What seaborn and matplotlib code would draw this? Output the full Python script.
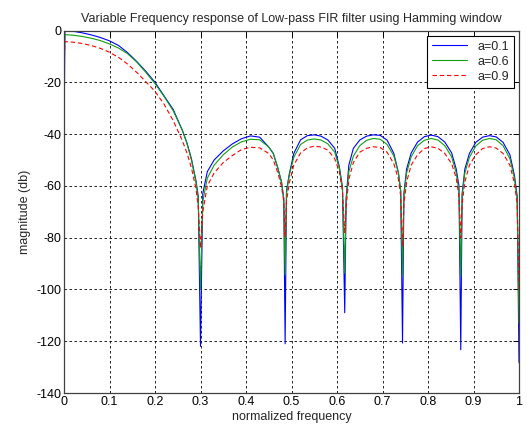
import numpy as np
import pandas as pd
import matplotlib
matplotlib.use("Agg")
import matplotlib.pyplot as plt
import seaborn as sns

# ---- data ----
freq = [0, 0.002, 0.02, 0.04, 0.06, 0.08, 0.10, 0.12, 0.14, 0.16, 0.18, 0.20, 0.22, 0.24, 0.26, 0.27, 0.28, 0.29, 0.295, 0.3,
        0.305, 0.315, 0.33, 0.35, 0.37, 0.39, 0.41, 0.43, 0.45, 0.46, 0.47, 0.478, 0.483, 0.486,
        0.489, 0.495, 0.505, 0.52, 0.535, 0.55, 0.565, 0.58, 0.595, 0.605, 0.612, 0.617,
        0.62, 0.626, 0.636, 0.65, 0.665, 0.68, 0.695, 0.71, 0.725, 0.735, 0.74, 0.744,
        0.747, 0.753, 0.763, 0.777, 0.792, 0.807, 0.822, 0.837, 0.852, 0.862, 0.868, 0.872,
        0.875, 0.881, 0.891, 0.905, 0.92, 0.935, 0.95, 0.965, 0.98, 0.99, 0.996, 1.0]

mag_a01 = [-45.5, 0, -0.3, -0.9, -1.7, -2.7, -4.0, -5.8, -8.6, -12.0, -15.8, -20.0, -25.3, -30.5, -38.5, -43.3, -49.5, -58, -64, -122,
           -63, -54.5, -50, -46.5, -43.8, -41.8, -40.7, -41.2, -45.0, -47.5, -53.2, -58.5, -65, -121,
           -62, -55.5, -47.5, -42.2, -40.6, -40.3, -40.8, -42.3, -45.5, -52.5, -60.5, -109,
           -65, -52, -45.5, -42.3, -40.8, -40.3, -40.5, -42.3, -47.5, -55, -62, -120.7,
           -63, -53.5, -47.3, -43.1, -41, -40.4, -41, -43.1, -47.3, -53.5, -60, -123.3,
           -63, -53.5, -47.5, -43.2, -41.2, -40.6, -41.1, -43.2, -48, -56, -64, -128.3]

mag_a06 = [-14, -1.6, -1.8, -2.3, -3.0, -3.9, -5.2, -6.8, -9.0, -12.2, -16.2, -20.5, -25.5, -31.0, -38.5, -43.5, -50, -58.5, -65, -100,
           -66, -57, -52, -48, -45, -43, -42, -42.2, -45, -47.5, -53, -58.5, -65, -94.4,
           -63, -56, -49, -44, -42.3, -41.9, -42.3, -43.8, -47, -53, -61, -93.7,
           -66, -54.5, -48.5, -44.5, -42.4, -41.7, -42, -44, -48.5, -55, -62, -95,
           -64, -55, -48.8, -44.5, -42.4, -41.7, -42.3, -44.5, -48.8, -55, -62, -95,
           -64, -55, -49, -44.6, -42.4, -41.7, -42.2, -44.5, -49.5, -57, -65, -113]

mag_a09 = [-16, -4.3, -4.5, -5.0, -5.8, -6.9, -8.4, -10.4, -13.0, -16.2, -19.8, -23.5, -28.5, -34.8, -42.5, -47.2, -53, -61, -68, -84,
           -70, -60, -55, -51, -48.3, -46, -45.1, -45.3, -47.5, -50, -55, -60.3, -66, -79.6,
           -66, -59, -52, -47.3, -45.3, -44.7, -45, -46.2, -49.5, -54.5, -62, -78,
           -68, -57.5, -51, -47, -45.5, -44.9, -45.2, -47, -51.5, -57.5, -64, -83.5,
           -67, -58.5, -52, -48, -45.6, -44.9, -45.5, -47.5, -51.5, -57, -64, -80,
           -67, -58.5, -52, -48, -45.6, -44.9, -45.4, -47.5, -52, -59, -67, -100]

series_names = ["a=0.1", "a=0.6", "a=0.9"]
x_ticks = [0, 0.1, 0.2, 0.3, 0.4, 0.5, 0.6, 0.7, 0.8, 0.9, 1]
x_tick_labels = ["0", "0.1", "0.2", "0.3", "0.4", "0.5", "0.6", "0.7", "0.8", "0.9", "1"]
y_ticks = [-140, -120, -100, -80, -60, -40, -20, 0]
y_tick_labels = ["-140", "-120", "-100", "-80", "-60", "-40", "-20", "0"]

# ---- build long table ----
df = pd.concat([
    pd.DataFrame({"freq": freq, "mag": m, "series": s})
    for s, m in zip(series_names, [mag_a01, mag_a06, mag_a09])
], ignore_index=True)

sns.set_style("white")
plt.rcParams["font.family"] = ["Liberation Sans", "DejaVu Sans"]
plt.rcParams["axes.unicode_minus"] = False

fig = plt.figure(figsize=(5.27, 4.34), dpi=100)
ax = fig.add_axes([64 / 527, 41 / 434, (519 - 64) / 527, (393 - 30.5) / 434])

palette = {"a=0.1": "#0000ff", "a=0.6": "#10a010", "a=0.9": "#ff0000"}
dashes = {"a=0.1": "", "a=0.6": "", "a=0.9": (4, 2.5)}
sns.lineplot(data=df, x="freq", y="mag", hue="series", style="series",
             palette=palette, dashes=dashes, sort=False, estimator=None,
             linewidth=0.8, ax=ax)

ax.set_xlim(0, 1)
ax.set_ylim(-140, 0)
ax.set_xticks(x_ticks)
ax.set_xticklabels(x_tick_labels)
ax.set_yticks(y_ticks)
ax.set_yticklabels(y_tick_labels)
ax.tick_params(direction="in", length=4, width=0.7, top=True, right=True,
               labelsize=9, pad=2, colors="black")
ax.grid(True, color="black", linestyle=(0, (3, 3)), linewidth=0.6)
for sp in ax.spines.values():
    sp.set_color("#404040")
    sp.set_linewidth(0.9)

ax.set_xlabel("normalized frequency", fontsize=9, labelpad=2)
ax.set_ylabel("magnitude (db)", fontsize=9, labelpad=4)
ax.set_title("Variable Frequency response of Low-pass FIR filter using Hamming window",
             fontsize=9, pad=6)

leg = ax.legend(loc="upper right", fontsize=9, frameon=True, fancybox=False,
                edgecolor="black", framealpha=1, borderaxespad=0.4,
                handlelength=2.8, labelspacing=0.25, borderpad=0.4)
leg.get_frame().set_linewidth(0.8)
leg.set_title(None)

fig.savefig("out.png", dpi=100)
